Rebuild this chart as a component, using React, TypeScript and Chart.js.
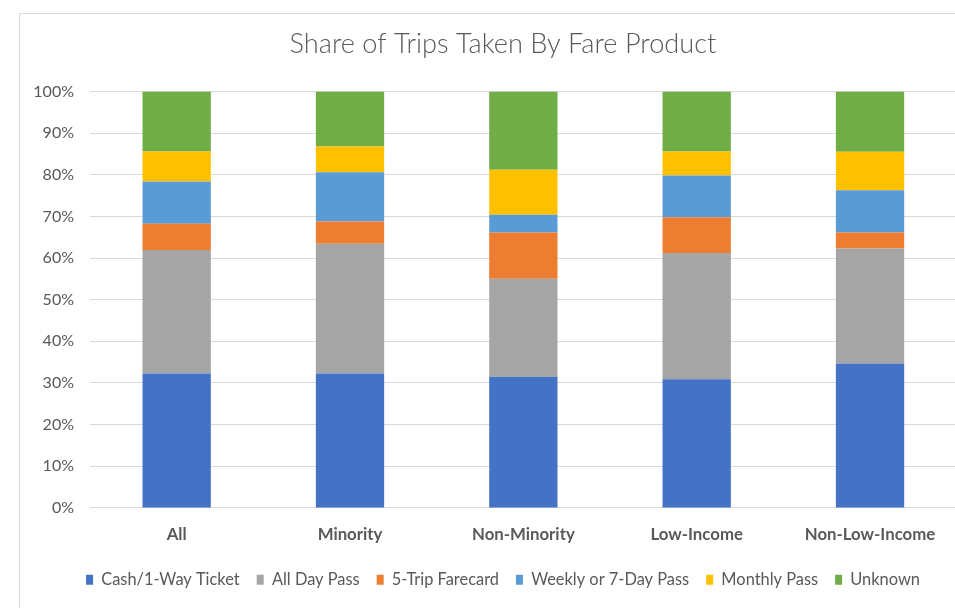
import React, { useEffect, useRef } from "react";
import { Chart, registerables } from "chart.js";

Chart.register(...registerables);

const categories = ["All", "Minority", "Non-Minority", "Low-Income", "Non-Low-Income"];
const cashOneWay = [32.3, 32.3, 31.5, 30.9, 34.7];
const allDayPass = [29.6, 31.1, 23.5, 30.3, 27.6];
const fiveTrip = [6.3, 5.4, 11.1, 8.6, 3.8];
const weekly = [10.2, 11.8, 4.3, 10.0, 10.2];
const monthly = [7.2, 6.2, 10.8, 5.8, 9.2];
const unknown = [14.4, 13.2, 18.8, 14.4, 14.5];
const seriesNames = [
  "Cash/1-Way Ticket",
  "All Day Pass",
  "5-Trip Farecard",
  "Weekly or 7-Day Pass",
  "Monthly Pass",
  "Unknown",
];
const seriesColors = ["#4472C4", "#A5A5A5", "#ED7D31", "#5B9BD5", "#FFC000", "#70AD47"];
const titleText = "Share of Trips Taken By Fare Product";

export default function App() {
  const ref = useRef<HTMLCanvasElement | null>(null);

  useEffect(() => {
    if (!ref.current) return;
    const values = [cashOneWay, allDayPass, fiveTrip, weekly, monthly, unknown];
    const chart = new Chart(ref.current, {
      type: "bar",
      data: {
        labels: categories,
        datasets: values.map((v, i) => ({
          label: seriesNames[i],
          data: v,
          backgroundColor: seriesColors[i],
          borderWidth: 0,
          barPercentage: 0.394,
          categoryPercentage: 1,
        })),
      },
      options: {
        responsive: false,
        animation: false,
        layout: { padding: { left: 14, right: 15, top: 0, bottom: 10 } },
        plugins: {
          title: {
            display: true,
            text: titleText,
            color: "#595959",
            font: { family: "Lato", size: 27.2, weight: "300" as any },
            padding: { top: 14, bottom: 30.8 },
          },
          legend: {
            position: "bottom",
            labels: {
              boxWidth: 7,
              boxHeight: 10,
              padding: 17,
              color: "#595959",
              font: { family: "Lato", size: 16.4 },
            },
          },
          tooltip: { enabled: false },
        },
        scales: {
          x: {
            stacked: true,
            grid: { display: false, drawTicks: false },
            border: { display: true, color: "#d9d9d9" },
            ticks: {
              color: "#595959",
              padding: 17,
              font: { family: "Lato", size: 16.8, weight: "bold" as any },
            },
            afterFit: (scale: any) => {
              scale.height = 46.7;
            },
          },
          y: {
            stacked: true,
            min: 0,
            max: 100,
            grid: { color: "#d9d9d9", drawTicks: false },
            border: { display: false },
            ticks: {
              stepSize: 10,
              padding: 16,
              color: "#595959",
              font: { family: "Lato", size: 16 },
              callback: (v: any) => v + "%",
            },
            afterFit: (scale: any) => {
              scale.width = 56;
            },
          },
          ySpacer: {
            type: "linear",
            position: "right",
            display: true,
            grid: { display: false, drawTicks: false },
            border: { display: false },
            ticks: { display: false },
            afterFit: (scale: any) => {
              scale.width = 15.3;
            },
          },
        },
      },
    });
    return () => chart.destroy();
  }, []);

  return (
    <div
      style={{
        position: "fixed",
        left: 0,
        top: 0,
        width: 955,
        height: 608,
        overflow: "hidden",
        background: "#fff",
      }}
    >
      <div
        style={{
          position: "absolute",
          left: 19,
          top: 13,
          width: 1000,
          height: 620,
          borderLeft: "1px solid #d9d9d9",
          borderTop: "1px solid #d9d9d9",
        }}
      >
        <canvas ref={ref} width={967} height={594} style={{ display: "block" }} />
      </div>
    </div>
  );
}
